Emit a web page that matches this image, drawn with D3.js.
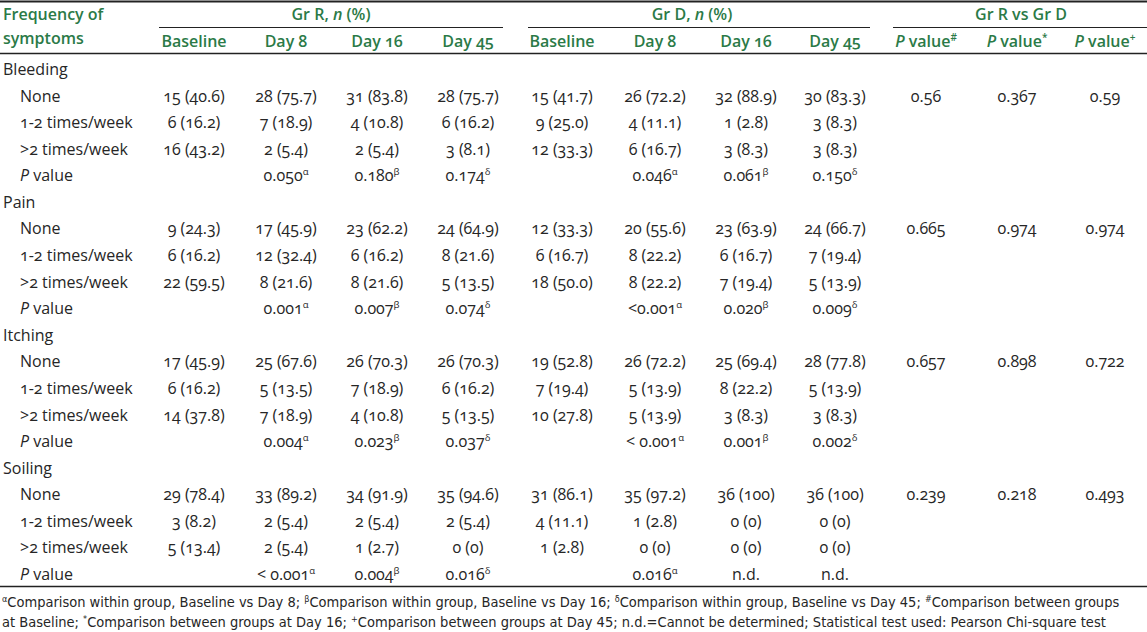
<!DOCTYPE html>
<html>
<head>
<meta charset="utf-8">
<script src="https://cdn.jsdelivr.net/npm/d3@7"></script>
<style>
  body { margin: 0; background: #fff; }
  svg text { font-family: "Open Sans", "Lato", sans-serif; font-variant-numeric: oldstyle-nums; }
  .head { fill: #2b7a47; font-weight: 600; font-size: 16px; }
  .cell { fill: #262626; font-size: 16px; }
  .foot { fill: #262626; font-size: 14.5px; font-family: "Liberation Sans Narrow", "DejaVu Sans Condensed", sans-serif; font-stretch: condensed; }
</style>
</head>
<body>
<div id="table"></div>
<script>
// Table values
const symptoms = ["Bleeding", "Pain", "Itching", "Soiling"];
const frequencies = ["None", "1-2 times/week", ">2 times/week"];
const timepoints = ["Baseline", "Day 8", "Day 16", "Day 45"];
const pMarks = ["α", "β", "δ"];
const betweenHeads = ["#", "*", "+"];

// Gr R, n (%) - rows: None, 1-2, >2 ; cols: Baseline, Day 8, Day 16, Day 45
const bleedingR = [["15 (40.6)", "28 (75.7)", "31 (83.8)", "28 (75.7)"],
                   ["6 (16.2)", "7 (18.9)", "4 (10.8)", "6 (16.2)"],
                   ["16 (43.2)", "2 (5.4)", "2 (5.4)", "3 (8.1)"]];
const painR = [["9 (24.3)", "17 (45.9)", "23 (62.2)", "24 (64.9)"],
               ["6 (16.2)", "12 (32.4)", "6 (16.2)", "8 (21.6)"],
               ["22 (59.5)", "8 (21.6)", "8 (21.6)", "5 (13.5)"]];
const itchingR = [["17 (45.9)", "25 (67.6)", "26 (70.3)", "26 (70.3)"],
                  ["6 (16.2)", "5 (13.5)", "7 (18.9)", "6 (16.2)"],
                  ["14 (37.8)", "7 (18.9)", "4 (10.8)", "5 (13.5)"]];
const soilingR = [["29 (78.4)", "33 (89.2)", "34 (91.9)", "35 (94.6)"],
                  ["3 (8.2)", "2 (5.4)", "2 (5.4)", "2 (5.4)"],
                  ["5 (13.4)", "2 (5.4)", "1 (2.7)", "0 (0)"]];

// Gr D, n (%)
const bleedingD = [["15 (41.7)", "26 (72.2)", "32 (88.9)", "30 (83.3)"],
                   ["9 (25.0)", "4 (11.1)", "1 (2.8)", "3 (8.3)"],
                   ["12 (33.3)", "6 (16.7)", "3 (8.3)", "3 (8.3)"]];
const painD = [["12 (33.3)", "20 (55.6)", "23 (63.9)", "24 (66.7)"],
               ["6 (16.7)", "8 (22.2)", "6 (16.7)", "7 (19.4)"],
               ["18 (50.0)", "8 (22.2)", "7 (19.4)", "5 (13.9)"]];
const itchingD = [["19 (52.8)", "26 (72.2)", "25 (69.4)", "28 (77.8)"],
                  ["7 (19.4)", "5 (13.9)", "8 (22.2)", "5 (13.9)"],
                  ["10 (27.8)", "5 (13.9)", "3 (8.3)", "3 (8.3)"]];
const soilingD = [["31 (86.1)", "35 (97.2)", "36 (100)", "36 (100)"],
                  ["4 (11.1)", "1 (2.8)", "0 (0)", "0 (0)"],
                  ["1 (2.8)", "0 (0)", "0 (0)", "0 (0)"]];

// Within-group P values (Day 8, Day 16, Day 45)
const pR = [["0.050", "0.180", "0.174"],
            ["0.001", "0.007", "0.074"],
            ["0.004", "0.023", "0.037"],
            ["< 0.001", "0.004", "0.016"]];
const pD = [["0.046", "0.061", "0.150"],
            ["<0.001", "0.020", "0.009"],
            ["< 0.001", "0.001", "0.002"],
            ["0.016", "n.d.", "n.d."]];

// Gr R vs Gr D P values (Baseline, Day 16, Day 45)
const pBetween = [["0.56", "0.367", "0.59"],
                  ["0.665", "0.974", "0.974"],
                  ["0.657", "0.898", "0.722"],
                  ["0.239", "0.218", "0.493"]];

const footLines = [
  [["α", true], ["Comparison within group, Baseline vs Day 8; ", false], ["β", true], ["Comparison within group, Baseline vs Day 16; ", false], ["δ", true], ["Comparison within group, Baseline vs Day 45; ", false], ["#", true], ["Comparison between groups", false]],
  [["at Baseline; ", false], ["*", true], ["Comparison between groups at Day 16; ", false], ["+", true], ["Comparison between groups at Day 45; n.d.=Cannot be determined; Statistical test used: Pearson Chi-square test", false]]
];

const groupR = [bleedingR, painR, itchingR, soilingR];
const groupD = [bleedingD, painD, itchingD, soilingD];

// Layout
const width = 1147, height = 632;
const svg = d3.select("#table").append("svg")
  .attr("width", width).attr("height", height);

const colKeys = ["R0", "R1", "R2", "R3", "D0", "D1", "D2", "D3", "B0", "B1", "B2"];
const x = d3.scaleOrdinal()
  .domain(colKeys)
  .range([194, 286, 377, 468, 562, 655, 746, 835, 926, 1017, 1105]);

// 20 body rows: each symptom has a title row, three frequency rows and a P value row
const y = d3.scaleLinear().domain([0, 19]).range([75, 580]);

// Rules
svg.append("line").attr("x1", 0).attr("x2", width).attr("y1", 1.5).attr("y2", 1.5)
  .attr("stroke", "#222").attr("stroke-width", 2);
svg.append("line").attr("x1", 0).attr("x2", width).attr("y1", 53.5).attr("y2", 53.5)
  .attr("stroke", "#222").attr("stroke-width", 1.4);
svg.append("line").attr("x1", 0).attr("x2", width).attr("y1", 586.5).attr("y2", 586.5)
  .attr("stroke", "#222").attr("stroke-width", 1.6);

const spans = [
  { label: "Gr R", x1: 159, x2: 503, cx: 331 },
  { label: "Gr D", x1: 528, x2: 870, cx: 692 },
  { label: "Gr R vs Gr D", x1: 893, x2: 1147, cx: 1021 }
];
svg.selectAll(".span-line").data(spans).enter().append("line")
  .attr("x1", d => d.x1).attr("x2", d => d.x2)
  .attr("y1", 27.5).attr("y2", 27.5)
  .attr("stroke", "#222").attr("stroke-width", 1.2);

spans.forEach((s, i) => {
  const t = svg.append("text").attr("class", "head")
    .attr("x", s.cx).attr("y", 20).attr("text-anchor", "middle");
  if (i < 2) {
    t.append("tspan").text(s.label + ", ");
    t.append("tspan").attr("font-style", "italic").text("n");
    t.append("tspan").text(" (%)");
  } else {
    t.text(s.label);
  }
});

svg.append("text").attr("class", "head").attr("x", 3).attr("y", 20).text("Frequency of");
svg.append("text").attr("class", "head").attr("x", 3).attr("y", 44).text("symptoms");

// Sub-headers
timepoints.forEach((tp, i) => {
  ["R", "D"].forEach(g => {
    svg.append("text").attr("class", "head")
      .attr("x", x(g + i)).attr("y", 47).attr("text-anchor", "middle").text(tp);
  });
});
betweenHeads.forEach((m, i) => {
  const t = svg.append("text").attr("class", "head")
    .attr("x", x("B" + i)).attr("y", 47).attr("text-anchor", "middle");
  t.append("tspan").attr("font-style", "italic").text("P");
  t.append("tspan").text(" value");
  t.append("tspan").attr("font-size", "10px").attr("dy", -6).text(m);
});

// Body
symptoms.forEach((sym, si) => {
  const base = si * 5;
  svg.append("text").attr("class", "cell").attr("x", 3).attr("y", y(base)).text(sym);

  frequencies.forEach((f, fi) => {
    const row = base + 1 + fi;
    svg.append("text").attr("class", "cell").attr("x", 20).attr("y", y(row)).text(f);

    const cells = groupR[si][fi].map((v, ci) => ({ key: "R" + ci, v }))
      .concat(groupD[si][fi].map((v, ci) => ({ key: "D" + ci, v })));
    if (fi === 0) {
      pBetween[si].forEach((v, ci) => cells.push({ key: "B" + ci, v }));
    }
    svg.selectAll(null).data(cells).enter().append("text")
      .attr("class", "cell")
      .attr("x", d => x(d.key)).attr("y", y(row))
      .attr("text-anchor", "middle")
      .text(d => d.v);
  });

  const prow = base + 4;
  const pl = svg.append("text").attr("class", "cell").attr("x", 20).attr("y", y(prow));
  pl.append("tspan").attr("font-style", "italic").text("P");
  pl.append("tspan").text(" value");

  const pcells = pR[si].map((v, ci) => ({ key: "R" + (ci + 1), v, m: pMarks[ci] }))
    .concat(pD[si].map((v, ci) => ({ key: "D" + (ci + 1), v, m: pMarks[ci] })));
  const pt = svg.selectAll(null).data(pcells).enter().append("text")
    .attr("class", "cell")
    .attr("x", d => x(d.key)).attr("y", y(prow))
    .attr("text-anchor", "middle");
  pt.append("tspan").text(d => d.v);
  pt.filter(d => d.v !== "n.d.").append("tspan")
    .attr("font-size", "9.5px").attr("dy", -6).text(d => d.m);
});

// Footnote
footLines.forEach((parts, li) => {
  const t = svg.append("text").attr("class", "foot")
    .attr("x", 2).attr("y", 607 + li * 20);
  parts.forEach(([txt, sup]) => {
    if (sup) {
      t.append("tspan").attr("font-size", "9px").attr("dy", -5).text(txt);
    } else {
      t.append("tspan").attr("dy", 5).text(txt);
    }
  });
  // first tspan should not shift down if it is normal text
  t.select("tspan").attr("dy", parts[0][1] ? -5 : 0);
});
</script>
</body>
</html>
